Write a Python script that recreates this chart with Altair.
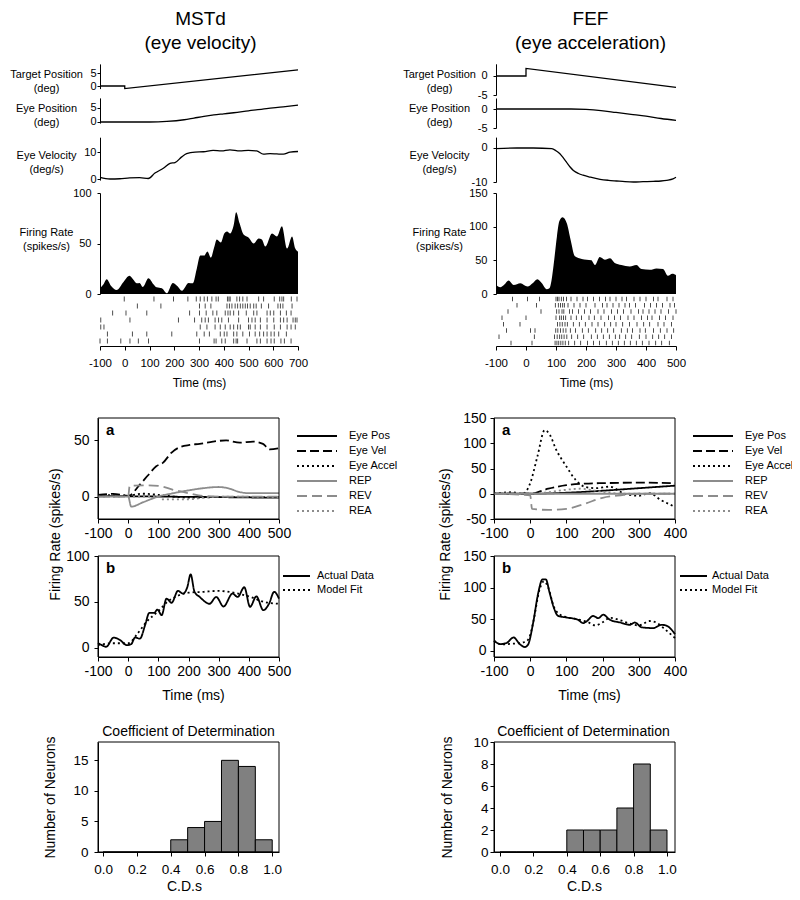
import altair as alt
import pandas as pd

FONT = "Liberation Sans"
OFF = 8          # page offset of the view origin
W, H = 784, 884  # drawing area
MINUS = "replace(datum.label, '\u2212', '-')"

# ======================= DATA =======================
# ---- MSTd (left column) ----
L_target_t = [-100, 0, 0, 700]
L_target_v = [0, 0, -1, 6.2]
L_eyepos_t = [-100, 0, 100, 170, 240, 280, 320, 360, 400, 440, 500, 573, 640, 700]
L_eyepos_v = [0, 0, 0, 0.2, 0.8, 1.4, 2.0, 2.5, 2.9, 3.3, 4.0, 4.8, 5.4, 6.0]
L_eyevel_t = [-100, -60, -20, 20, 60, 95, 122, 156, 183, 203, 230, 250, 284, 318, 357, 391,
              425, 465, 499, 533, 560, 587, 614, 641, 668, 700]
L_eyevel_v = [0.6, 0, 0.1, 0.4, 0.5, 0.2, 2.2, 4, 5.8, 6.1, 8.2, 9.4, 10, 10.1, 10.6, 10.4,
              10.8, 10.4, 10.6, 10.4, 9.2, 9.4, 9.3, 9.2, 10, 10.2]
L_rate_t = [-100, -85, -73, -55, -33, -5, 19, 35, 48, 60, 73, 96, 115, 129, 150, 170, 194, 212,
            231, 258, 275, 291, 305, 321, 334, 348, 360, 372, 388, 402, 413, 426, 440, 450, 464,
            480, 500, 521, 541, 554, 568, 595, 615, 635, 656, 676, 689, 700]
L_rate_v = [5.6, 10, 14.6, 8, 4, 12, 18, 14, 10.6, 11, 7, 15.6, 10, 6.6, 5.6, 0.7, 11, 8,
            3.3, 11, 10.6, 25, 38, 38, 42, 36, 45, 54, 51, 60, 62, 60, 68, 81, 70,
            59, 56, 50, 55, 54, 47, 60, 57, 67, 45, 57, 45, 42]
L_raster = [
    [-2, 118, 197, 255, 289, 305, 321, 334, 352, 369, 378, 415, 421, 426, 453, 464, 477, 494, 541, 561, 604, 626, 635, 642, 673, 696],
    [51, 146, 302, 325, 348, 413, 423, 433, 446, 456, 467, 477, 487, 496, 507, 521, 531, 552, 581, 619, 629, 639, 676],
    [-49, 5, 89, 262, 302, 329, 356, 372, 406, 417, 426, 440, 460, 491, 521, 534, 575, 588, 602, 629, 653, 672],
    [-97, 21, 217, 282, 311, 325, 338, 365, 379, 392, 419, 460, 500, 514, 527, 548, 575, 602, 629, 642, 656, 680, 689, 696],
    [-97, -84, 305, 332, 365, 386, 406, 426, 440, 456, 467, 500, 507, 527, 548, 575, 604, 629, 656, 672, 689],
    [-70, 31, 89, 190, 291, 321, 342, 386, 402, 413, 440, 453, 477, 504, 527, 545, 561, 575, 591, 604, 622, 653],
    [-100, -70, -16, 21, 55, 96, 302, 361, 369, 392, 406, 440, 450, 456, 494, 534, 548, 575, 591, 604, 631, 645, 672],
]
# model components (panel a)
L_a = {
    "Eye Pos":   ([-100, 0, 100, 200, 300, 400, 500], [0.5, 0.3, 0, -0.3, -0.5, -0.8, -1]),
    "Eye Vel":   ([-100, -50, 0, 38, 66, 93, 115, 143, 171, 204, 237, 281, 325, 370, 414, 447, 469, 500],
                  [1.5, 2.4, 0.6, 10.4, 19, 27, 30, 39, 44, 46, 47, 49, 50, 48, 49, 47, 42, 43]),
    "Eye Accel": ([-100, 0, 50, 100, 150, 200, 300, 400, 500], [1.5, 1, 2.5, 1.5, 0, -1, -0.5, -0.5, -0.5]),
    "REP":       ([-100, 0, 10, 50, 100, 150, 200, 250, 300, 330, 370, 400, 500],
                  [0, 0, -9, -5, 0, 3, 5.5, 7.5, 8.5, 7.5, 4, 3, 3]),
    "REV":       ([-100, 0, 5, 60, 100, 150, 200, 250, 300, 500], [0, 0, 9.5, 10, 9.5, 6, 3, 0.5, 0, 0]),
    "REA":       ([-100, 100, 110, 200, 250, 300, 500], [0, 0, -2.5, -2.5, -1, 0, -0.5]),
}
# actual data vs model fit (panel b)
L_b = {
    "Actual Data": ([-100, -87, -73, -48, -26, -5, 10, 23, 39, 56, 70, 86, 97, 111, 127, 144, 165, 182,
                     196, 207, 220, 237, 270, 292, 316, 346, 363, 385, 404, 425, 448, 467, 484, 500],
                    [5.4, 2.9, 1.1, 11.2, 8.3, 2.9, 4, 11.2, 10, 24.6, 38, 38, 41.7, 35.5, 53.6, 49, 62, 59,
                     66, 80, 61, 55.4, 48, 55.4, 45, 59, 55.4, 66, 44.6, 56, 41, 48, 61, 53.6]),
    "Model Fit":   ([-100, -50, 0, 30, 60, 100, 130, 160, 200, 250, 300, 350, 400, 450, 500],
                    [3, 5, 5, 15, 28, 40, 50, 56, 60, 61, 62, 60, 56, 50, 48]),
}
L_hist = [0, 0, 0, 0, 2, 4, 5, 15, 14, 2]

# ---- FEF (right column) ----
R_target_t = [-100, 0, 0, 500]
R_target_v = [0, 0, 2, -3]
R_eyepos_t = [-100, 0, 100, 150, 200, 250, 300, 350, 400, 450, 500]
R_eyepos_v = [0, 0, 0, 0, -0.1, -0.4, -0.9, -1.4, -1.9, -2.5, -3.0]
R_eyevel_t = [-100, -30, 24, 86, 100, 113, 125, 136, 147, 158, 175, 190, 215, 247, 275, 302,
              330, 358, 390, 424, 450, 469, 490, 500]
R_eyevel_v = [-0.2, 0, 0, -0.2, -0.8, -1.7, -3, -4.3, -5.6, -6.6, -7.5, -8, -8.6, -9.2, -9.5, -9.7,
              -9.9, -10, -9.9, -9.8, -9.7, -9.5, -9.1, -8.6]
R_rate_t = [-100, -86, -72, -58, -41, -19, 5, 22, 38, 53, 69, 78, 85, 92, 103, 111, 122, 136, 149,
            163, 186, 202, 218, 230, 246, 263, 280, 296, 318, 346, 368, 385, 413, 435, 457, 473, 488, 500]
R_rate_v = [13.4, 10, 14, 20, 13.4, 16, 11, 16, 22, 16, 7, 8.4, 20, 43, 85, 108, 114, 105, 80,
            56, 52, 51, 50, 43, 55, 51, 53, 46, 43, 41, 43, 37, 36, 38, 37, 27, 30, 28]
R_raster = [
    [-45, 5, 45, 100, 105, 110, 118, 125, 135, 150, 170, 190, 205, 225, 245, 265, 280, 300, 320, 335, 360, 380, 400, 425, 440, 470, 490],
    [-30, 35, 98, 108, 115, 122, 128, 140, 160, 180, 200, 230, 255, 270, 290, 310, 330, 345, 365, 395, 415, 435, 455, 480, 495],
    [-60, 50, 102, 110, 120, 126, 145, 155, 175, 195, 215, 240, 260, 285, 305, 325, 350, 375, 390, 410, 430, 450, 475, 500],
    [-80, 0, 100, 112, 118, 125, 132, 150, 168, 185, 210, 228, 250, 275, 295, 315, 340, 360, 385, 405, 420, 445, 465, 490],
    [-75, -20, 105, 113, 121, 130, 138, 158, 178, 198, 220, 240, 262, 282, 300, 322, 345, 370, 392, 412, 440, 460, 485],
    [-65, 15, 30, 99, 106, 115, 124, 133, 148, 165, 188, 208, 232, 252, 272, 292, 318, 338, 355, 380, 398, 425, 448, 470, 492],
    [-90, 28, 95, 104, 112, 119, 127, 136, 152, 172, 192, 218, 238, 258, 278, 298, 312, 332, 352, 378, 400, 422, 442, 462, 485],
    [-50, 20, 97, 103, 109, 116, 123, 131, 142, 162, 182, 205, 225, 245, 268, 288, 308, 328, 348, 368, 388, 410, 432, 452, 478],
]
R_a = {
    "Eye Pos":   ([-100, 0, 100, 200, 300, 400], [0, 0, 2, 6, 11, 16]),
    "Eye Vel":   ([-100, 0, 50, 100, 150, 200, 300, 400], [0, 0, 10, 17, 20, 21, 22, 21]),
    "Eye Accel": ([-100, -50, -20, 0, 20, 40, 55, 70, 100, 125, 150, 180, 220, 260, 300, 330, 360, 400],
                  [0, 3, 0, 21, 74, 126, 116, 90, 54, 28, 14, 11, 14, 0, -4, 1, -12, -26]),
    "REP":       ([-100, 400], [0, 0]),
    "REV":       ([-100, 0, 5, 50, 100, 150, 200, 250, 300, 400], [0, -3, -30, -32, -30, -20, -8, -3, 0, 0]),
    "REA":       ([-100, 0, 50, 100, 140, 180, 220, 260, 400], [0, 0, 3, 8, 10, 6, 2, 0, 0]),
}
R_b = {
    "Actual Data": ([-100, -82, -66, -46, -29, -15, -6, 8, 22, 34, 43, 54, 66, 77, 100, 132, 146, 155,
                     174, 188, 202, 220, 248, 275, 289, 308, 340, 363, 377, 400],
                    [15.8, 10.5, 12, 21, 10.5, 5.8, 9.5, 43.7, 91, 113, 113, 91, 67, 55, 52.6, 49, 43.7, 46,
                     55, 51.5, 57, 49, 44.7, 41, 44.7, 37, 35.8, 41, 39.5, 26.3]),
    "Model Fit":   ([-100, -80, -50, -30, -10, 0, 10, 25, 38, 50, 65, 80, 100, 130, 160, 180, 200, 220,
                     250, 280, 300, 330, 350, 370, 400],
                    [16, 10, 11, 12, 15, 25, 50, 95, 110, 100, 70, 58, 53, 50, 45, 40, 45, 52,
                     48, 42, 40, 47, 44, 35, 20]),
}
R_hist = [0, 0, 0, 0, 2, 2, 2, 4, 8, 2]

CD_LO = [0.0, 0.1, 0.2, 0.3, 0.4, 0.5, 0.6, 0.7, 0.8, 0.9]
CD_HI = [0.1, 0.2, 0.3, 0.4, 0.5, 0.6, 0.7, 0.8, 0.9, 1.0]

SER_A = ["Eye Pos", "Eye Vel", "Eye Accel", "REP", "REV", "REA"]
COL_A = ["black", "black", "black", "#8c8c8c", "#8c8c8c", "#8c8c8c"]
DASH_A = [[1, 0], [9, 4], [2, 3], [1, 0], [10, 5], [2, 3]]
SER_B = ["Actual Data", "Model Fit"]
COL_B = ["black", "black"]
DASH_B = [[1, 0], [2, 3]]


# ======================= HELPERS =======================
def P(v):
    return v - OFF


def S(dom, a, b):
    return alt.Scale(domain=dom, range=[P(a), P(b)], nice=False, zero=False)


def axis_left(ax_x, values, tick=3, pad=3, size=11, **kw):
    kw.setdefault("title", None)
    return alt.Axis(orient="left", offset=-P(ax_x), values=values, tickSize=tick,
                    labelPadding=pad, labelFontSize=size, labelOverlap=False, grid=False,
                    labelExpr=MINUS, **kw)


def axis_bottom(ax_y, values, tick=4, pad=4, size=11, **kw):
    kw.setdefault("title", None)
    return alt.Axis(orient="bottom", offset=P(ax_y) - H, values=values, tickSize=tick,
                    labelPadding=pad, labelFontSize=size, labelOverlap=False, labelFlush=False,
                    grid=False, labelExpr=MINUS, **kw)


def side_title(lines, cx, ax_x, cy, size=11):
    return dict(title=lines, titleX=cx - ax_x, titleY=P(cy), titleAngle=0, titleAlign="center",
                titleBaseline="middle", titleLineHeight=14, titleFontSize=size)


def trace(t, v, xs, ys, yaxis, xaxis=None, interp="monotone"):
    df = pd.DataFrame({"t": t, "v": v})
    return alt.Chart(df).mark_line(color="black", strokeWidth=1.3, interpolate=interp).encode(
        x=alt.X("t:Q", scale=xs, axis=xaxis), y=alt.Y("v:Q", scale=ys, axis=yaxis))


def frame(xdom, ydom, xs, ys, xaxis=None):
    df = pd.DataFrame({"x0": [xdom[0]], "x1": [xdom[1]], "y0": [ydom[0]], "y1": [ydom[1]]})
    return alt.Chart(df).mark_rect(fill="transparent", stroke="black", strokeWidth=1).encode(
        x=alt.X("x0:Q", scale=xs, axis=xaxis), x2="x1:Q",
        y=alt.Y("y0:Q", scale=ys, axis=None), y2="y1:Q")


def letter(s, xdom, ydom, xs, ys):
    df = pd.DataFrame({"x": [xdom[0]], "y": [ydom[1]], "s": [s]})
    return alt.Chart(df).mark_text(align="left", baseline="top", dx=8, dy=5, fontSize=15,
                                   fontWeight="bold", font=FONT, color="black").encode(
        x=alt.X("x:Q", scale=xs, axis=None), y=alt.Y("y:Q", scale=ys, axis=None), text="s:N")


def long_df(d):
    rows = []
    for name, (ts, vs) in d.items():
        for t, v in zip(ts, vs):
            rows.append({"series": name, "t": t, "v": v})
    return pd.DataFrame(rows)


def legend(x, y, n_size, clip, loff):
    return alt.Legend(orient="none", legendX=P(x), legendY=P(y), title=None, symbolType="stroke",
                      symbolSize=n_size, symbolStrokeWidth=2, clipHeight=clip, rowPadding=0,
                      padding=0, labelFontSize=11, labelOffset=loff, labelFont=FONT)


def column(c):
    layers = []
    x0, x1 = c["xtop_px"]
    xs = S(c["xtop"], x0, x1)
    # target position (with the column title on a hidden top axis)
    title_axis = alt.Axis(orient="top", domain=False, ticks=False, labels=False, grid=False,
                          title=c["title"], titleX=P(c["title_cx"]), titleY=P(18), titleFontSize=19,
                          titleAlign="center", titleBaseline="middle", titleLineHeight=24,
                          titleFontWeight="normal", titleAngle=0)
    layers.append(trace(c["tgt_t"], c["tgt_v"], xs, S(c["tgt_dom"], *c["tgt_px"]),
                        axis_left(x0, c["tgt_vals"], pad=c["pad_small"],
                                  **side_title(["Target Position", "(deg)"], c["tcx"], x0, 74)),
                        xaxis=title_axis, interp="linear"))
    layers.append(trace(c["pos_t"], c["pos_v"], xs, S(c["pos_dom"], *c["pos_px"]),
                        axis_left(x0, c["pos_vals"], pad=c["pad_small"],
                                  **side_title(["Eye Position", "(deg)"], c["tcx"], x0, 108))))
    layers.append(trace(c["vel_t"], c["vel_v"], xs, S(c["vel_dom"], *c["vel_px"]),
                        axis_left(x0, c["vel_vals"], pad=c["pad_small"],
                                  **side_title(["Eye Velocity", "(deg/s)"], c["tcx"], x0, 155))))
    rdf = pd.DataFrame({"t": c["rate_t"], "v": c["rate_v"]})
    layers.append(alt.Chart(rdf).mark_area(color="black", interpolate="monotone").encode(
        x=alt.X("t:Q", scale=xs, axis=None),
        y=alt.Y("v:Q", scale=S(c["rate_dom"], 294, 193),
                axis=axis_left(x0, c["rate_vals"], pad=6,
                               **side_title(["Firing Rate", "(spikes/s)"], c["tcx"], x0, 232)))))
    spikes = pd.DataFrame([{"t": t, "trial": i + 1} for i, r in enumerate(c["raster"]) for t in r])
    nrow = len(c["raster"])
    layers.append(alt.Chart(spikes).mark_tick(orient="vertical", size=c["tick_len"], thickness=1,
                                              color="black").encode(
        x=alt.X("t:Q", scale=xs,
                axis=axis_bottom(346, c["xtop_vals"], pad=7, size=11.5, title="Time (ms)",
                                 titleX=P((x0 + x1) / 2), titleY=36, titleFontSize=12,
                                 titleAlign="center", titleBaseline="middle")),
        y=alt.Y("trial:Q", scale=S([1, nrow], 299, c["raster_last"]), axis=None)))

    # ---- panel a ----
    mx0, mx1 = c["mid_px"]
    xsa = S(c["xmid"], mx0, mx1)
    ysa = S(c["a_dom"], 519, 418)
    layers.append(alt.Chart(long_df(c["a"])).mark_line(strokeWidth=1.8, interpolate="monotone").encode(
        x=alt.X("t:Q", scale=xsa, axis=axis_bottom(519, c["xmid_vals"], size=14, pad=3)),
        y=alt.Y("v:Q", scale=ysa,
                axis=axis_left(mx0, c["a_vals"], tick=4, pad=c["pad_mid"], size=14,
                               title="Firing Rate (spikes/s)", titleX=c["fr_cx"] - mx0, titleY=P(534),
                               titleAngle=270, titleAlign="center", titleBaseline="middle",
                               titleFontSize=14)),
        color=alt.Color("series:N", scale=alt.Scale(domain=SER_A, range=COL_A),
                        legend=legend(c["legA_x"], 428.5, 1600, 15, 11)),
        strokeDash=alt.StrokeDash("series:N", scale=alt.Scale(domain=SER_A, range=DASH_A),
                                  legend=legend(c["legA_x"], 428.5, 1600, 15, 11))))
    layers.append(frame(c["xmid"], c["a_dom"], xsa, ysa))
    layers.append(letter("a", c["xmid"], c["a_dom"], xsa, ysa))

    # ---- panel b ----
    ysb = S(c["b_dom"], 657, 556)
    layers.append(alt.Chart(long_df(c["b"])).mark_line(strokeWidth=1.8, interpolate="monotone").encode(
        x=alt.X("t:Q", scale=xsa,
                axis=axis_bottom(657, c["xmid_vals"], size=14, pad=3, title="Time (ms)",
                                 titleX=P(c["time_b_cx"]), titleY=38, titleFontSize=14,
                                 titleAlign="center", titleBaseline="middle")),
        y=alt.Y("v:Q", scale=ysb, axis=axis_left(mx0, c["b_vals"], tick=4, pad=c["pad_mid"], size=14)),
        color=alt.Color("series:N", scale=alt.Scale(domain=SER_B, range=COL_B),
                        legend=legend(c["legB_x"], 569, 729, 14, c["legB_off"])),
        strokeDash=alt.StrokeDash("series:N", scale=alt.Scale(domain=SER_B, range=DASH_B),
                                  legend=legend(c["legB_x"], 569, 729, 14, c["legB_off"]))))
    layers.append(frame(c["xmid"], c["b_dom"], xsa, ysb))
    layers.append(letter("b", c["xmid"], c["b_dom"], xsa, ysb))

    # ---- histogram ----
    xsh = S(c["xhist"], mx0, mx1)
    ysh = S(c["h_dom"], 852, 742)
    hdf = pd.DataFrame({"lo": CD_LO, "hi": CD_HI, "n": c["hist"], "zero": [0] * len(CD_LO)})
    layers.append(alt.Chart(hdf).mark_rect(color="#808080", stroke="black", strokeWidth=1).encode(
        x=alt.X("lo:Q", scale=xsh,
                axis=axis_bottom(852, [0, 0.2, 0.4, 0.6, 0.8, 1.0], size=13.5, pad=6, format=".1f",
                                 title="C.D.s", titleX=P(c["cds_cx"]), titleY=34, titleFontSize=14,
                                 titleAlign="center", titleBaseline="middle")),
        x2="hi:Q",
        y=alt.Y("n:Q", scale=ysh,
                axis=axis_left(mx0, c["h_vals"], tick=4, pad=c["pad_hist"], size=13.5,
                               title="Number of Neurons", titleX=c["nn_cx"] - mx0, titleY=P(797),
                               titleAngle=270, titleAlign="center", titleBaseline="middle",
                               titleFontSize=14)),
        y2="zero:Q"))
    top_axis = alt.Axis(orient="top", offset=-P(742), domain=False, ticks=False, labels=False,
                        grid=False, title="Coefficient of Determination", titleX=P(c["cod_cx"]),
                        titleY=-11, titleFontSize=14, titleAlign="center", titleBaseline="middle",
                        titleFontWeight="normal", titleAngle=0)
    layers.append(frame(c["xhist"], c["h_dom"], xsh, ysh, xaxis=top_axis))
    return layers


LEFT = dict(
    title=["MSTd", "(eye velocity)"], title_cx=200,
    xtop=[-100, 700], xtop_px=(100, 298), xtop_vals=list(range(-100, 701, 100)), tcx=46, pad_small=1,
    tgt_t=L_target_t, tgt_v=L_target_v, tgt_dom=[-1, 8.5], tgt_px=(88.6, 63.9), tgt_vals=[0, 5],
    pos_t=L_eyepos_t, pos_v=L_eyepos_v, pos_dom=[-0.4, 8.6], pos_px=(123.1, 97.9), pos_vals=[0, 5],
    vel_t=L_eyevel_t, vel_v=L_eyevel_v, vel_dom=[-0.4, 15.5], vel_px=(180.1, 137.2), vel_vals=[0, 10],
    rate_t=L_rate_t, rate_v=L_rate_v, rate_dom=[0, 100], rate_vals=[0, 50, 100],
    raster=L_raster, raster_last=341, tick_len=5,
    xmid=[-100, 500], mid_px=(98, 279), xmid_vals=list(range(-100, 501, 100)), pad_mid=5,
    a=L_a, a_dom=[-20, 70], a_vals=[0, 50], fr_cx=55, legA_x=296,
    b=L_b, b_dom=[-10, 100], b_vals=[0, 50, 100], legB_x=282, legB_off=6, time_b_cx=193,
    xhist=[-0.03, 1.04], hist=L_hist, h_dom=[0, 18], h_vals=[0, 5, 10, 15], pad_hist=6,
    nn_cx=50, cod_cx=188, cds_cx=184,
)
RIGHT = dict(
    title=["FEF", "(eye acceleration)"], title_cx=590,
    xtop=[-100, 500], xtop_px=(496, 676), xtop_vals=list(range(-100, 501, 100)), tcx=439, pad_small=6,
    tgt_t=R_target_t, tgt_v=R_target_v, tgt_dom=[-5, 3.2], tgt_px=(95, 63.8), tgt_vals=[-5, 0],
    pos_t=R_eyepos_t, pos_v=R_eyepos_v, pos_dom=[-5, 2.9], pos_px=(128, 98), pos_vals=[-5, 0],
    vel_t=R_eyevel_t, vel_v=R_eyevel_v, vel_dom=[-10, 3.2], vel_px=(182, 137.1), vel_vals=[-10, 0],
    rate_t=R_rate_t, rate_v=R_rate_v, rate_dom=[0, 150], rate_vals=[0, 50, 100, 150],
    raster=R_raster, raster_last=343, tick_len=4.5,
    xmid=[-100, 400], mid_px=(494, 675), xmid_vals=list(range(-100, 401, 100)), pad_mid=4,
    a=R_a, a_dom=[-50, 150], a_vals=[-50, 0, 50, 100, 150], fr_cx=445, legA_x=692,
    b=R_b, b_dom=[-10, 150], b_vals=[0, 50, 100, 150], legB_x=679, legB_off=4, time_b_cx=589,
    xhist=[-0.036, 1.048], hist=R_hist, h_dom=[0, 10], h_vals=[0, 2, 4, 6, 8, 10], pad_hist=2,
    nn_cx=447, cod_cx=583, cds_cx=584,
)

chart = alt.layer(*(column(LEFT) + column(RIGHT))).resolve_scale(
    x="independent", y="independent", color="independent", strokeDash="independent"
).resolve_axis(
    x="independent", y="independent"
).resolve_legend(
    color="independent", strokeDash="independent"
).properties(
    width=W, height=H, padding=0, autosize=alt.AutoSizeParams(type="none")
).configure_view(
    stroke=None
).configure_axis(
    labelFont=FONT, titleFont=FONT, labelColor="black", titleColor="black", domainColor="black",
    tickColor="black", titleFontWeight="normal", grid=False, domainWidth=1, tickWidth=1
).configure_legend(
    labelFont=FONT, labelColor="black"
).configure_text(font=FONT)

chart.save("out.html", embed_options={"renderer": "svg", "actions": False})
